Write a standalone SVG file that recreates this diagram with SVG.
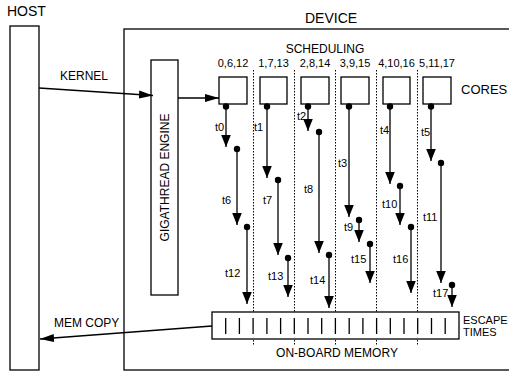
<svg xmlns="http://www.w3.org/2000/svg" width="509" height="373" viewBox="0 0 509 373">
<style>
text{font-family:"Liberation Sans",Arial,sans-serif;fill:#000}
.box{fill:#fff;stroke:#000;stroke-width:1.3}
.ln{stroke:#000;stroke-width:1.3;fill:none}
.th{stroke:#000;stroke-width:1.3;fill:none;marker-start:url(#dot);marker-end:url(#ah)}
.dash{stroke:#000;stroke-width:1;stroke-dasharray:1.5 1.5;fill:none}
.t{font-size:11px}
.lbl{font-size:12px}
</style>
<defs>
<marker id="ah" markerUnits="userSpaceOnUse" markerWidth="12" markerHeight="12" viewBox="0 0 10 8" refX="10" refY="4" orient="auto">
<path d="M0,0 L10,4 L0,8 Z" fill="#000"/>
</marker>
<marker id="ah2" markerUnits="userSpaceOnUse" markerWidth="14" markerHeight="10" viewBox="0 0 14 8" refX="14" refY="4" orient="auto">
<path d="M0,0 L14,4 L0,8 Z" fill="#000"/>
</marker>
<marker id="dot" markerUnits="userSpaceOnUse" markerWidth="8" markerHeight="8" viewBox="0 0 8 8" refX="4" refY="4">
<circle cx="4" cy="4" r="3.2" fill="#000"/>
</marker>
</defs>
<rect width="509" height="373" fill="#fff"/>

<g id="host">
<text x="7" y="16" font-size="14">HOST</text>
<rect class="box" x="10" y="26" width="29" height="344"/>
</g>

<g id="device">
<text x="305" y="23" font-size="14">DEVICE</text>
<rect class="box" x="124" y="29" width="400" height="341"/>
<text x="325" y="53" class="lbl" text-anchor="middle">SCHEDULING</text>
<text x="461" y="94" font-size="13">CORES</text>
</g>

<g id="dividers">
<line class="dash" x1="253.5" y1="70" x2="253.5" y2="346"/>
<line class="dash" x1="294.5" y1="70" x2="294.5" y2="346"/>
<line class="dash" x1="335.5" y1="70" x2="335.5" y2="346"/>
<line class="dash" x1="376.5" y1="70" x2="376.5" y2="346"/>
<line class="dash" x1="417.5" y1="70" x2="417.5" y2="346"/>
</g>

<g id="gigathread">
<rect class="box" x="151" y="60" width="27" height="235"/>
<text class="lbl" transform="translate(168.5,177.5) rotate(-90)" text-anchor="middle">GIGATHREAD ENGINE</text>
</g>

<g id="core0"><rect class="box" x="219" y="77" width="28" height="27"/><text class="t" x="233" y="67" text-anchor="middle">0,6,12</text></g>
<g id="core1"><rect class="box" x="260" y="77" width="27" height="27"/><text class="t" x="273.5" y="67" text-anchor="middle">1,7,13</text></g>
<g id="core2"><rect class="box" x="301" y="77" width="28" height="27"/><text class="t" x="315" y="67" text-anchor="middle">2,8,14</text></g>
<g id="core3"><rect class="box" x="341" y="77" width="28" height="27"/><text class="t" x="355" y="67" text-anchor="middle">3,9,15</text></g>
<g id="core4"><rect class="box" x="383" y="77" width="27" height="27"/><text class="t" x="396.5" y="67" text-anchor="middle">4,10,16</text></g>
<g id="core5"><rect class="box" x="423" y="77" width="28" height="27"/><text class="t" x="437" y="67" text-anchor="middle">5,11,17</text></g>

<g id="memory">
<rect class="box" x="212" y="312" width="247" height="27"/>
<g class="ln">
<path d="M225.7,318v16M239.4,318v16M253.1,318v16M266.9,318v16M280.6,318v16M294.3,318v16M308,318v16M321.7,318v16M335.4,318v16M349.2,318v16M362.9,318v16M376.6,318v16M390.3,318v16M404,318v16M417.7,318v16M431.5,318v16M445.2,318v16"/>
</g>
<text x="463" y="324" class="t">ESCAPE</text>
<text x="463" y="336" class="t">TIMES</text>
<text x="337" y="357" class="lbl" text-anchor="middle">ON-BOARD MEMORY</text>
</g>

<g id="connectors">
<line class="ln" x1="39" y1="88" x2="153" y2="95.5" marker-end="url(#ah2)"/>
<text x="60" y="80" class="lbl">KERNEL</text>
<line class="ln" x1="178" y1="98" x2="219" y2="98" marker-end="url(#ah2)"/>
<line class="ln" x1="212" y1="326" x2="40" y2="339" marker-end="url(#ah2)"/>
<text x="54" y="327" class="lbl">MEM COPY</text>

<line class="th" x1="226" y1="106.5" x2="226" y2="147"/>
<line class="th" x1="237" y1="149" x2="237" y2="225"/>
<line class="th" x1="247" y1="227" x2="247" y2="304"/>
<line class="th" x1="267" y1="106.5" x2="267" y2="178"/>
<line class="th" x1="278" y1="180" x2="278" y2="255"/>
<line class="th" x1="288" y1="258" x2="288" y2="297"/>
<line class="th" x1="308" y1="106.5" x2="308" y2="131"/>
<line class="th" x1="319" y1="132" x2="319" y2="253"/>
<line class="th" x1="329" y1="255" x2="329" y2="308"/>
<line class="th" x1="349" y1="106.5" x2="349" y2="217"/>
<line class="th" x1="359" y1="220" x2="359" y2="242"/>
<line class="th" x1="370" y1="244" x2="370" y2="283"/>
<line class="th" x1="390" y1="106.5" x2="390" y2="184"/>
<line class="th" x1="400" y1="186" x2="400" y2="225"/>
<line class="th" x1="411" y1="227" x2="411" y2="293"/>
<line class="th" x1="431" y1="106.5" x2="431" y2="161"/>
<line class="th" x1="441" y1="163" x2="441" y2="283"/>
<line class="th" x1="452" y1="285" x2="452" y2="307"/>

<text class="t" x="215" y="131">t0</text>
<text class="t" x="254" y="131">t1</text>
<text class="t" x="297" y="120">t2</text>
<text class="t" x="338" y="167">t3</text>
<text class="t" x="380" y="134">t4</text>
<text class="t" x="421" y="136">t5</text>
<text class="t" x="222" y="204">t6</text>
<text class="t" x="263" y="204">t7</text>
<text class="t" x="304" y="193">t8</text>
<text class="t" x="344" y="231">t9</text>
<text class="t" x="382" y="208">t10</text>
<text class="t" x="423" y="221">t11</text>
<text class="t" x="225" y="277">t12</text>
<text class="t" x="268" y="280">t13</text>
<text class="t" x="310" y="284">t14</text>
<text class="t" x="351" y="263">t15</text>
<text class="t" x="393" y="263">t16</text>
<text class="t" x="433" y="297">t17</text>
</g>
</svg>
